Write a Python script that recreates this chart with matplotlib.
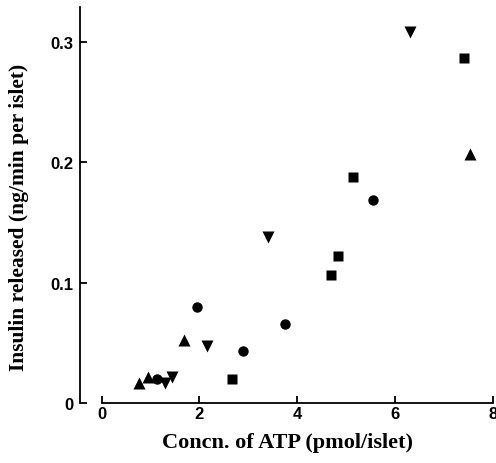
import matplotlib.pyplot as plt

# ATP concentration (pmol/islet) vs insulin release (ng/min per islet), one list per symbol
circle_x = [1.13, 1.96, 2.89, 3.75, 5.56]
circle_y = [0.020, 0.080, 0.043, 0.066, 0.169]

square_x = [2.66, 4.69, 4.84, 5.15, 7.41]
square_y = [0.020, 0.106, 0.122, 0.188, 0.287]

up_x = [0.77, 0.96, 1.69, 7.54]
up_y = [0.017, 0.022, 0.052, 0.207]

down_x = [1.29, 1.44, 2.15, 3.41, 6.31]
down_y = [0.017, 0.022, 0.047, 0.138, 0.308]

xticks = [0, 2, 4, 6, 8]
yticks = [0, 0.1, 0.2, 0.3]
yticklabels = ['0', '0.1', '0.2', '0.3']

fig = plt.figure(figsize=(4.96, 4.64), dpi=100)
ax = fig.add_axes([0.1613, 0.1293, 0.837, 0.8535])

ax.plot(circle_x, circle_y, 'o', color='black', ms=7.5, mec='none')
ax.plot(square_x, square_y, 's', color='black', ms=7, mec='none')
ax.plot(up_x, up_y, '^', color='black', ms=8, mec='none')
ax.plot(down_x, down_y, 'v', color='black', ms=8, mec='none')

ax.set_xlim(-0.44, 8.05)
ax.set_ylim(0, 0.329)

# Detached x axis: drawn only between 0 and 8
ax.spines['top'].set_visible(False)
ax.spines['right'].set_visible(False)
ax.spines['bottom'].set_bounds(0, 8)
ax.spines['left'].set_linewidth(1.3)
ax.spines['bottom'].set_linewidth(1.3)

ax.set_xticks(xticks)
ax.set_xticklabels([str(t) for t in xticks])
ax.set_yticks(yticks)
ax.set_yticklabels(yticklabels)
ax.tick_params(direction='in', length=5, width=1.3, labelsize=12)
ax.tick_params(axis='x', pad=2)
ax.tick_params(axis='y', pad=5)
for lab in ax.get_xticklabels() + ax.get_yticklabels():
    lab.set_fontfamily('Liberation Sans')
    lab.set_fontweight('bold')

ax.set_xlabel('Concn. of ATP (pmol/islet)', fontfamily='Liberation Serif',
              fontweight='bold', fontsize=16, labelpad=8)
ax.set_ylabel('Insulin released (ng/min per islet)', fontfamily='Liberation Serif',
              fontweight='bold', fontsize=15.5)
ax.yaxis.set_label_coords(-0.123, 0.47)

fig.savefig('out.png', dpi=100)
